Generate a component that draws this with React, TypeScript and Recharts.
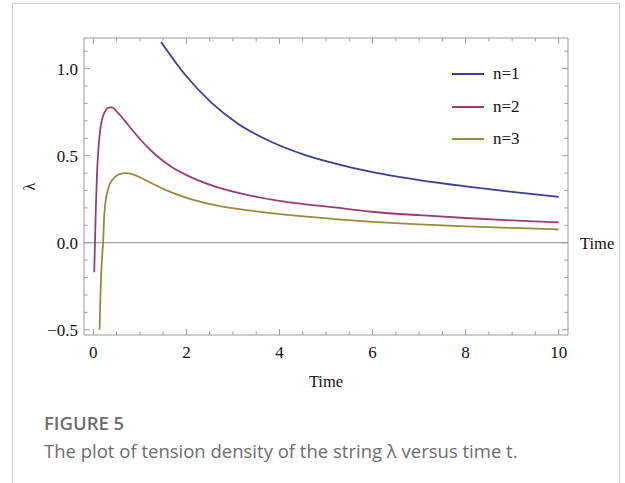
import React from 'react';
import { LineChart, Line, XAxis, YAxis, ReferenceLine, Legend } from 'recharts';

// values (time t, tension density lambda)
const tN1 = [1.455, 1.96, 2.53, 3.1, 3.82, 4.54, 5.18, 6, 7, 8, 9, 10];
const lamN1 = [1.153, 0.969, 0.806, 0.685, 0.58, 0.505, 0.456, 0.405, 0.36, 0.324, 0.292, 0.264];

const tN2 = [0.02, 0.036, 0.057, 0.08, 0.1, 0.13, 0.16, 0.2, 0.27, 0.33, 0.4, 0.5, 0.67, 0.85, 1.02, 1.25, 1.46, 1.7, 1.96, 2.67, 3.39, 4.11, 5.18, 6, 7, 8, 9, 10];
const lamN2 = [-0.17, 0, 0.22, 0.4, 0.5, 0.6, 0.67, 0.72, 0.762, 0.776, 0.777, 0.755, 0.703, 0.643, 0.59, 0.527, 0.478, 0.432, 0.394, 0.318, 0.27, 0.236, 0.203, 0.178, 0.158, 0.142, 0.128, 0.117];

const tN3 = [0.135, 0.15, 0.17, 0.19, 0.21, 0.23, 0.26, 0.3, 0.35, 0.42, 0.5, 0.6, 0.7, 0.85, 1.02, 1.24, 1.6, 1.96, 2.67, 3.39, 4.11, 5.18, 6, 7, 8, 9, 10];
const lamN3 = [-0.5, -0.33, -0.18, -0.08, 0, 0.13, 0.23, 0.29, 0.335, 0.365, 0.385, 0.397, 0.4, 0.393, 0.373, 0.343, 0.298, 0.262, 0.213, 0.184, 0.161, 0.136, 0.12, 0.105, 0.094, 0.085, 0.077];

const seriesNames = ['n=1', 'n=2', 'n=3'];
const seriesColors = ['#3d3d99', '#993d71', '#998b3d'];

const xTicks = [0, 0.5, 1, 1.5, 2, 2.5, 3, 3.5, 4, 4.5, 5, 5.5, 6, 6.5, 7, 7.5, 8, 8.5, 9, 9.5, 10];
const xMajor = [0, 2, 4, 6, 8, 10];
const yTicks = [-0.5, -0.4, -0.3, -0.2, -0.1, 0, 0.1, 0.2, 0.3, 0.4, 0.5, 0.6, 0.7, 0.8, 0.9, 1, 1.1];
const yMajor = [-0.5, 0, 0.5, 1];

const toRows = (t: number[], l: number[]) => t.map((x, i) => ({ t: x, lambda: l[i] }));
const series = [toRows(tN1, lamN1), toRows(tN2, lamN2), toRows(tN3, lamN3)];

const FRAME = '#999';
const serif = '"Liberation Serif", "Times New Roman", serif';
const sans = '"Open Sans", "Noto Sans", sans-serif';
const MAJOR = 6;
const MINOR = 3.5;
const FS = 17;

const isMajor = (v: number, majors: number[]) => majors.some((m) => Math.abs(m - v) < 1e-6);
const fmtY = (v: number) => (v < 0 ? '\u2212' + Math.abs(v).toFixed(1) : v.toFixed(1));

const BottomTick = ({ x, y, payload }: any) => {
  const major = isMajor(payload.value, xMajor);
  return (
    <g>
      <line x1={x} x2={x} y1={y} y2={y - (major ? MAJOR : MINOR)} stroke={FRAME} />
      {major && (
        <text x={x} y={y + 23} textAnchor="middle" fontFamily={serif} fontSize={FS} fill="#111">
          {payload.value}
        </text>
      )}
    </g>
  );
};

const TopTick = ({ x, y, payload }: any) => {
  const major = isMajor(payload.value, xMajor);
  return <line x1={x} x2={x} y1={y} y2={y + (major ? MAJOR : MINOR)} stroke={FRAME} />;
};

const LeftTick = ({ x, y, payload }: any) => {
  const major = isMajor(payload.value, yMajor);
  return (
    <g>
      <line x1={x} x2={x + (major ? MAJOR : MINOR)} y1={y} y2={y} stroke={FRAME} />
      {major && (
        <text x={x - 6} y={y + 6} textAnchor="end" fontFamily={serif} fontSize={FS} fill="#111">
          {fmtY(payload.value)}
        </text>
      )}
    </g>
  );
};

const RightTick = ({ x, y, payload }: any) => {
  const major = isMajor(payload.value, yMajor);
  return <line x1={x} x2={x - (major ? MAJOR : MINOR)} y1={y} y2={y} stroke={FRAME} />;
};

const LambdaLabel = ({ viewBox }: any) => {
  const cx = 29;
  const cy = viewBox.y + viewBox.height / 2;
  return (
    <text x={cx} y={cy} transform={`rotate(-90 ${cx} ${cy})`} textAnchor="middle" dominantBaseline="central"
      fontFamily={serif} fontSize={16} fill="#111">
      λ
    </text>
  );
};

const LegendBox = ({ payload }: any) => (
  <div>
    {(payload || []).filter((p: any) => seriesNames.includes(p.value)).map((p: any) => (
      <div key={p.value} style={{ display: 'flex', alignItems: 'center', height: 32.5 }}>
        <div style={{ width: 32, borderTop: `2px solid ${p.color}` }} />
        <span style={{ marginLeft: 9, fontFamily: serif, fontSize: FS, color: '#111' }}>{p.value}</span>
      </div>
    ))}
  </div>
);

export default function App() {
  return (
    <div style={{ position: 'absolute', left: 0, top: 0, width: 625, height: 483, background: '#fff', overflow: 'hidden' }}>
      <div style={{ position: 'absolute', left: 12, top: 3, width: 608, height: 500, border: '1px solid #cfcfcf', boxSizing: 'border-box' }} />
      <div style={{ position: 'absolute', left: 0, top: 0 }}>
        <LineChart width={625} height={400} margin={{ top: 37, right: 56, bottom: 11, left: 0 }}>
          <XAxis xAxisId="b" dataKey="t" type="number" domain={[-0.2, 10.2]} allowDataOverflow ticks={xTicks} interval={0}
            height={54} tickSize={0} tickMargin={0} tickLine={false} stroke={FRAME} tick={<BottomTick />}
            label={{ value: 'Time', position: 'insideBottom', offset: 2, fontFamily: serif, fontSize: 16.5, fill: '#111' }} />
          <XAxis xAxisId="t" orientation="top" dataKey="t" type="number" domain={[-0.2, 10.2]} allowDataOverflow ticks={xTicks} interval={0}
            height={1} tickSize={0} tickMargin={0} tickLine={false} stroke={FRAME} tick={<TopTick />} />
          <YAxis yAxisId="l" type="number" domain={[-0.53, 1.176]} allowDataOverflow ticks={yTicks} interval={0}
            width={84} tickSize={0} tickMargin={0} tickLine={false} stroke={FRAME} tick={<LeftTick />}
            label={<LambdaLabel />} />
          <YAxis yAxisId="r" orientation="right" type="number" domain={[-0.53, 1.176]} allowDataOverflow ticks={yTicks} interval={0}
            width={1} tickSize={0} tickMargin={0} tickLine={false} stroke={FRAME} tick={<RightTick />} />
          <ReferenceLine xAxisId="b" yAxisId="l" y={0} stroke="#8a8a8a" strokeWidth={1}
            label={{ value: 'Time', position: 'right', offset: 12, fontFamily: serif, fontSize: 16.5, fill: '#111' }} />
          {series.map((rows, i) => (
            <Line key={seriesNames[i]} xAxisId="b" yAxisId="l" data={rows} dataKey="lambda" name={seriesNames[i]}
              type="monotone" stroke={seriesColors[i]} strokeWidth={1.8} dot={false} isAnimationActive={false} />
          ))}
          {/* invisible series so the top/right frame axes get rendered */}
          <Line xAxisId="t" yAxisId="r" data={series[0]} dataKey="lambda" stroke="none" legendType="none"
            dot={false} activeDot={false} isAnimationActive={false} />
          <Legend content={<LegendBox />} layout="vertical" align="center" verticalAlign="middle"
            wrapperStyle={{ position: 'absolute', left: 452, top: 58, width: 'auto' }} />
        </LineChart>
      </div>
      <div style={{ position: 'absolute', left: 44, top: 412, fontFamily: sans, fontWeight: 600, fontSize: 18.5, lineHeight: '22px', color: '#6d6d6d' }}>
        FIGURE 5
      </div>
      <div style={{ position: 'absolute', left: 44, top: 440, fontFamily: sans, fontSize: 18.5, lineHeight: '22px', color: '#6d6d6d', whiteSpace: 'nowrap' }}>
        The plot of tension density of the string λ versus time t.
      </div>
    </div>
  );
}
